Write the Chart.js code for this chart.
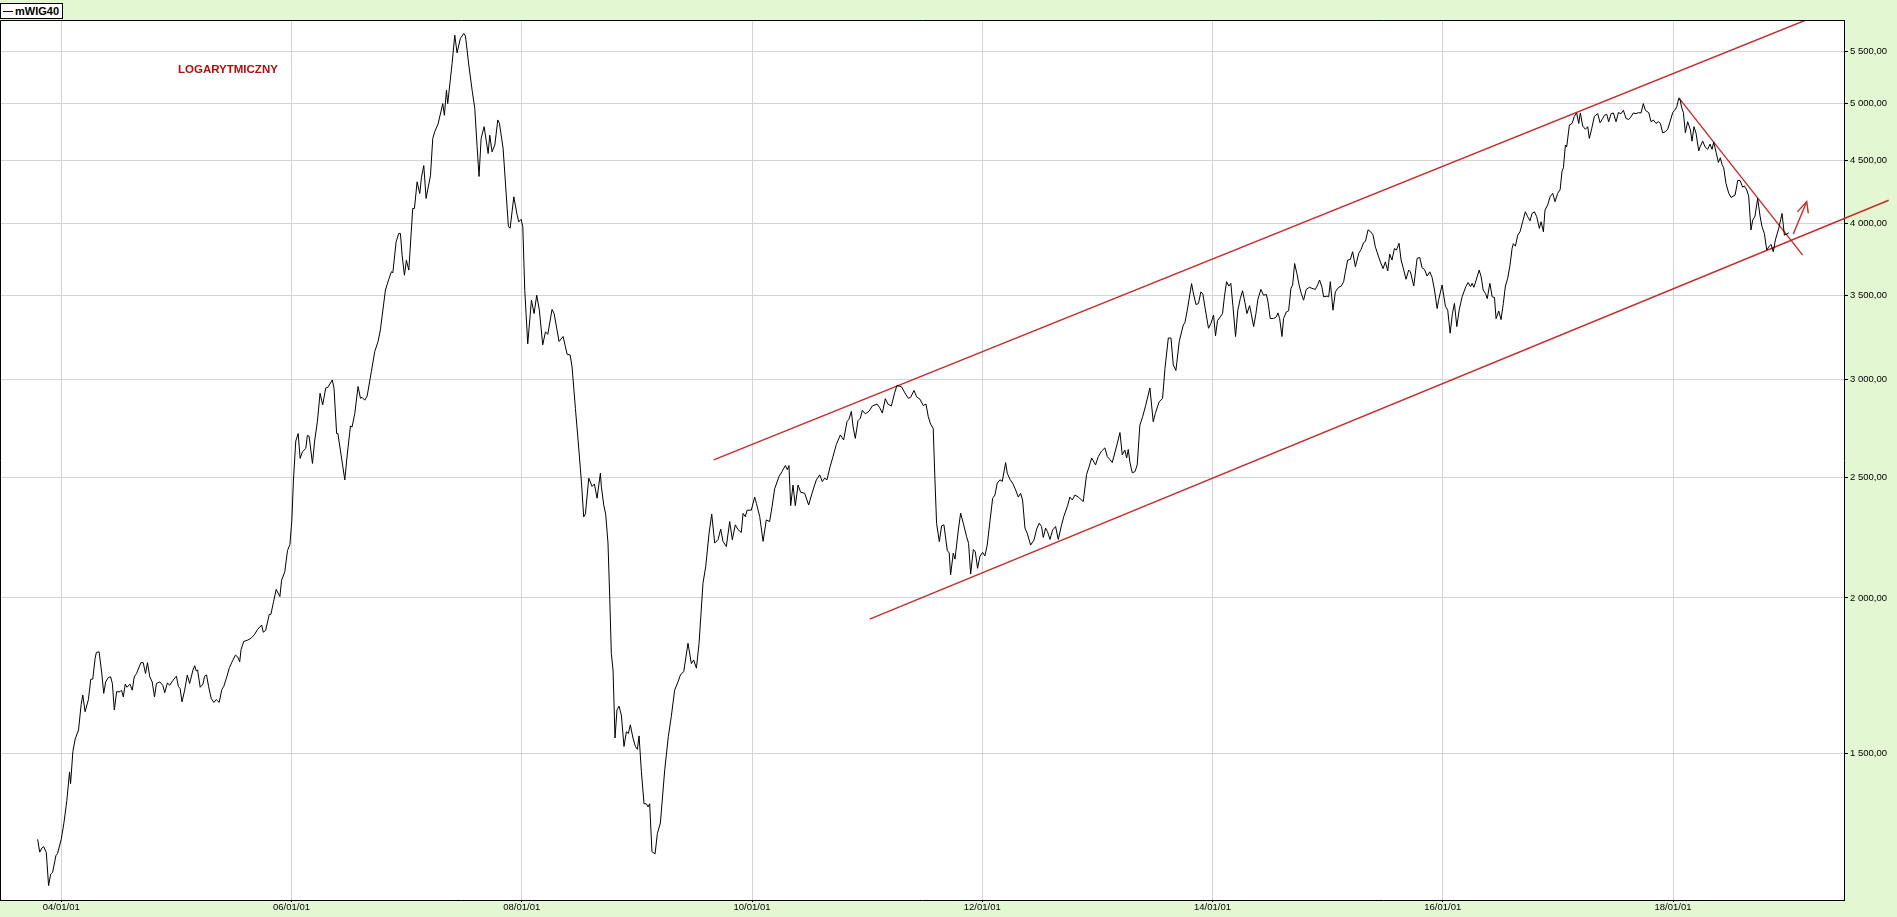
<!DOCTYPE html>
<html>
<head>
<meta charset="utf-8">
<script src="https://cdn.jsdelivr.net/npm/chart.js@4.4.1/dist/chart.umd.min.js"></script>
<style>
  html, body { margin: 0; padding: 0; background: #e3f7d3; }
  #wrap { position: relative; width: 1897px; height: 917px; overflow: hidden; }
  #c { position: absolute; left: 0; top: 0; }
  #legend { position: absolute; left: 0; top: 3px; width: 61px; height: 14px; border: 1px solid #000; background: #fff;
            font: bold 11px "Liberation Sans", Arial, sans-serif; line-height: 14px; }
  #legend .swatch { position: absolute; left: 2px; top: 7px; width: 10px; height: 1px; background: #000; }
  #legend .name { position: absolute; left: 14px; top: 0; }
  #note { position: absolute; left: 178px; top: 62px; font: bold 11.5px "Liberation Sans", Arial, sans-serif;
          color: #ad0f0f; line-height: 14px; white-space: nowrap; }
</style>
</head>
<body>
<div id="wrap">
  <canvas id="c" width="1897" height="917"></canvas>
  <div id="legend"><span class="swatch"></span><span class="name">mWIG40</span></div>
  <div id="note">LOGARYTMICZNY</div>
</div>
<script>
// ---- data: [decimal year, index value] ----
const seg2003_2006 = [[2003.795,1279],[2003.813,1249],[2003.833,1259],[2003.847,1262],[2003.870,1248],[2003.890,1174],[2003.908,1199],[2003.925,1203],[2003.954,1241],[2003.968,1246],[2004.000,1279],[2004.023,1318],[2004.049,1375],[2004.072,1449],[2004.081,1418],[2004.101,1505],[2004.121,1540],[2004.150,1566],[2004.173,1642],[2004.187,1671],[2004.207,1620],[2004.236,1657],[2004.256,1720],[2004.274,1721],[2004.294,1788],[2004.305,1808],[2004.329,1810],[2004.352,1740],[2004.369,1676],[2004.386,1712],[2004.409,1726],[2004.429,1728],[2004.444,1707],[2004.461,1625],[2004.481,1681],[2004.510,1681],[2004.524,1686],[2004.539,1665],[2004.556,1705],[2004.571,1695],[2004.597,1705],[2004.617,1686],[2004.634,1728],[2004.654,1739],[2004.692,1774],[2004.712,1774],[2004.732,1739],[2004.749,1774],[2004.769,1728],[2004.790,1712],[2004.810,1665],[2004.827,1707],[2004.856,1712],[2004.882,1701],[2004.899,1678],[2004.922,1709],[2004.942,1701],[2004.971,1717],[2005.000,1730],[2005.017,1698],[2005.032,1691],[2005.049,1650],[2005.072,1686],[2005.095,1734],[2005.115,1707],[2005.144,1750],[2005.159,1764],[2005.173,1747],[2005.184,1750],[2005.207,1695],[2005.231,1705],[2005.245,1730],[2005.262,1734],[2005.280,1697],[2005.303,1660],[2005.326,1648],[2005.346,1657],[2005.372,1648],[2005.395,1688],[2005.412,1698],[2005.438,1728],[2005.461,1758],[2005.490,1782],[2005.513,1799],[2005.533,1793],[2005.550,1777],[2005.562,1818],[2005.585,1845],[2005.620,1850],[2005.648,1856],[2005.677,1868],[2005.706,1887],[2005.741,1902],[2005.755,1877],[2005.775,1883],[2005.807,1940],[2005.821,1940],[2005.844,1986],[2005.867,2032],[2005.899,2005],[2005.914,2067],[2005.942,2100],[2005.965,2183],[2005.986,2208],[2006.003,2310],[2006.017,2488],[2006.037,2674],[2006.058,2712],[2006.075,2590],[2006.095,2622],[2006.124,2638],[2006.138,2703],[2006.153,2698],[2006.182,2566],[2006.202,2680],[2006.225,2774],[2006.248,2922],[2006.271,2860],[2006.297,2950],[2006.317,2955],[2006.354,2995],[2006.369,2950],[2006.392,2712],[2006.403,2712]];

const seg2006_2008 = [[2006.463,2489],[2006.483,2602],[2006.512,2750],[2006.526,2745],[2006.550,2815],[2006.578,2959],[2006.599,2895],[2006.613,2900],[2006.636,2885],[2006.657,2907],[2006.694,3043],[2006.723,3157],[2006.752,3216],[2006.772,3286],[2006.816,3538],[2006.845,3609],[2006.868,3660],[2006.880,3653],[2006.909,3869],[2006.932,3929],[2006.946,3929],[2006.961,3772],[2006.981,3636],[2006.998,3738],[2007.019,3671],[2007.053,4115],[2007.068,4115],[2007.091,4323],[2007.114,4230],[2007.129,4360],[2007.149,4455],[2007.169,4192],[2007.207,4373],[2007.227,4684],[2007.244,4743],[2007.273,4812],[2007.314,4997],[2007.328,4890],[2007.346,5122],[2007.357,4997],[2007.395,5383],[2007.418,5672],[2007.438,5490],[2007.467,5638],[2007.496,5690],[2007.511,5663],[2007.540,5367],[2007.569,5122],[2007.592,4952],[2007.612,4616],[2007.629,4366],[2007.647,4684],[2007.673,4788],[2007.708,4556],[2007.722,4713],[2007.742,4570],[2007.766,4628],[2007.792,4848],[2007.806,4818],[2007.838,4600],[2007.884,3979],[2007.899,3967],[2007.931,4205],[2007.959,4068],[2007.974,4014],[2007.994,4033],[2008.009,3979],[2008.026,3537],[2008.052,3202],[2008.084,3472],[2008.107,3387],[2008.130,3504],[2008.153,3408],[2008.182,3196],[2008.206,3274],[2008.226,3259],[2008.263,3413],[2008.281,3387],[2008.324,3216],[2008.359,3246],[2008.394,3141],[2008.420,3137],[2008.437,3068],[2008.466,2841],[2008.489,2680],[2008.518,2482],[2008.538,2324],[2008.553,2337],[2008.582,2497],[2008.611,2459],[2008.631,2470],[2008.654,2406],[2008.683,2520]];

const seg2008_2011 = [[2008.691,2460],[2008.712,2376],[2008.729,2336],[2008.749,2214],[2008.764,2005],[2008.778,1805],[2008.793,1750],[2008.810,1543],[2008.827,1625],[2008.845,1637],[2008.865,1610],[2008.888,1519],[2008.909,1561],[2008.926,1556],[2008.943,1581],[2008.966,1543],[2008.987,1519],[2009.004,1511],[2009.019,1549],[2009.039,1450],[2009.062,1366],[2009.082,1366],[2009.097,1358],[2009.111,1366],[2009.131,1250],[2009.158,1245],[2009.178,1293],[2009.204,1318],[2009.242,1455],[2009.273,1547],[2009.299,1606],[2009.328,1686],[2009.357,1712],[2009.378,1734],[2009.407,1745],[2009.444,1839],[2009.473,1771],[2009.493,1783],[2009.517,1756],[2009.540,1839],[2009.574,2055],[2009.598,2120],[2009.627,2255],[2009.650,2336],[2009.676,2214],[2009.705,2228],[2009.728,2272],[2009.748,2221],[2009.777,2200],[2009.806,2304],[2009.829,2228],[2009.855,2290],[2009.878,2270],[2009.907,2258],[2009.922,2339],[2009.942,2325],[2009.957,2353],[2009.994,2353],[2010.023,2411],[2010.038,2383],[2010.067,2325],[2010.096,2221],[2010.124,2311],[2010.153,2304],[2010.174,2368],[2010.197,2449],[2010.235,2505],[2010.261,2528],[2010.290,2556],[2010.307,2536],[2010.321,2556],[2010.336,2373],[2010.356,2465],[2010.376,2373],[2010.400,2465],[2010.423,2432],[2010.457,2428],[2010.492,2376],[2010.530,2443],[2010.559,2489],[2010.588,2512],[2010.611,2481],[2010.631,2497],[2010.651,2489],[2010.675,2544],[2010.704,2600],[2010.732,2657],[2010.767,2705],[2010.796,2680],[2010.825,2773],[2010.842,2785],[2010.863,2826],[2010.877,2750],[2010.897,2688],[2010.921,2778],[2010.941,2790],[2010.958,2831],[2010.984,2813],[2011.016,2826],[2011.045,2854],[2011.086,2864],[2011.109,2845],[2011.132,2817],[2011.158,2893],[2011.181,2864],[2011.210,2854],[2011.239,2925],[2011.259,2965]];

const seg2011_2013 = [[2011.299,2957],[2011.328,2924],[2011.357,2895],[2011.378,2900],[2011.407,2937],[2011.430,2903],[2011.459,2890],[2011.488,2856],[2011.511,2865],[2011.531,2798],[2011.551,2760],[2011.574,2738],[2011.589,2490],[2011.603,2297],[2011.627,2220],[2011.647,2286],[2011.667,2290],[2011.696,2184],[2011.713,2173],[2011.725,2087],[2011.748,2173],[2011.763,2149],[2011.792,2268],[2011.812,2340],[2011.835,2297],[2011.864,2240],[2011.881,2213],[2011.899,2091],[2011.922,2187],[2011.939,2180],[2011.959,2113],[2011.980,2160],[2012.003,2176],[2012.023,2162],[2012.043,2206],[2012.067,2306],[2012.090,2405],[2012.110,2420],[2012.130,2474],[2012.153,2489],[2012.174,2482],[2012.203,2570],[2012.217,2520],[2012.240,2492],[2012.263,2474],[2012.290,2443],[2012.313,2411],[2012.333,2428],[2012.350,2398],[2012.371,2276],[2012.391,2254],[2012.420,2206],[2012.449,2226],[2012.472,2272],[2012.495,2297],[2012.515,2283],[2012.530,2237],[2012.550,2276],[2012.567,2261],[2012.588,2229],[2012.611,2268],[2012.637,2283],[2012.660,2229],[2012.689,2290],[2012.709,2327],[2012.741,2372],[2012.761,2411],[2012.782,2398],[2012.805,2420],[2012.834,2411],[2012.877,2391],[2012.906,2514],[2012.926,2547],[2012.950,2592],[2012.984,2559],[2013.008,2599],[2013.036,2625],[2013.065,2641],[2013.086,2599],[2013.109,2584],[2013.129,2570],[2013.167,2650],[2013.196,2717],[2013.216,2607],[2013.239,2630],[2013.254,2592],[2013.268,2633],[2013.283,2570],[2013.303,2522],[2013.326,2527],[2013.346,2559],[2013.369,2755],[2013.393,2798],[2013.419,2856],[2013.456,2951],[2013.485,2772],[2013.503,2815],[2013.537,2877],[2013.566,2894],[2013.587,3060],[2013.616,3237],[2013.639,3237],[2013.659,3080],[2013.682,3048],[2013.711,3217],[2013.746,3316],[2013.760,3330],[2013.781,3408],[2013.818,3580],[2013.833,3519],[2013.856,3444]];

const seg2013_2016 = [[2013.878,3451],[2013.899,3526],[2013.916,3511],[2013.936,3419],[2013.965,3296],[2013.986,3326],[2014.009,3377],[2014.026,3250],[2014.043,3342],[2014.067,3366],[2014.087,3387],[2014.104,3498],[2014.122,3593],[2014.142,3564],[2014.159,3582],[2014.177,3437],[2014.200,3246],[2014.220,3408],[2014.241,3482],[2014.261,3533],[2014.281,3459],[2014.299,3387],[2014.322,3437],[2014.336,3387],[2014.357,3306],[2014.377,3387],[2014.394,3477],[2014.420,3542],[2014.443,3504],[2014.467,3509],[2014.481,3466],[2014.501,3356],[2014.530,3356],[2014.554,3366],[2014.568,3391],[2014.583,3356],[2014.603,3246],[2014.617,3356],[2014.641,3397],[2014.661,3404],[2014.681,3549],[2014.696,3571],[2014.713,3716],[2014.733,3647],[2014.754,3564],[2014.771,3515],[2014.791,3472],[2014.814,3542],[2014.841,3556],[2014.864,3549],[2014.893,3542],[2014.913,3571],[2014.930,3604],[2014.951,3556],[2014.965,3494],[2014.994,3498],[2015.009,3494],[2015.023,3593],[2015.046,3408],[2015.067,3526],[2015.096,3556],[2015.119,3564],[2015.139,3593],[2015.154,3659],[2015.174,3740],[2015.197,3744],[2015.217,3798],[2015.241,3694],[2015.270,3786],[2015.290,3814],[2015.313,3863],[2015.328,3871],[2015.351,3955],[2015.371,3943],[2015.394,3918],[2015.414,3833],[2015.438,3774],[2015.458,3727],[2015.481,3681],[2015.501,3727],[2015.522,3666],[2015.539,3781],[2015.559,3740],[2015.580,3821],[2015.597,3809],[2015.620,3858],[2015.638,3740],[2015.661,3671],[2015.681,3609],[2015.704,3671],[2015.719,3659],[2015.748,3564],[2015.777,3751],[2015.800,3758],[2015.820,3687],[2015.841,3675],[2015.864,3631],[2015.887,3659],[2015.907,3622],[2015.928,3538],[2015.951,3419],[2015.965,3477],[2015.994,3571],[2016.023,3433],[2016.043,3408],[2016.064,3266],[2016.084,3387],[2016.101,3451],[2016.122,3306],[2016.142,3408],[2016.168,3494],[2016.200,3560],[2016.220,3587],[2016.241,3560],[2016.255,3582],[2016.270,3556],[2016.290,3604],[2016.316,3671],[2016.333,3627],[2016.351,3538],[2016.371,3515],[2016.386,3482],[2016.409,3582],[2016.429,3494],[2016.449,3489]];

const seg2016_2019 = [[2016.463,3355],[2016.486,3403],[2016.506,3349],[2016.526,3452],[2016.544,3564],[2016.564,3616],[2016.584,3704],[2016.602,3821],[2016.613,3855],[2016.631,3837],[2016.651,3917],[2016.671,3941],[2016.694,4015],[2016.717,4090],[2016.738,4052],[2016.758,4022],[2016.775,4077],[2016.796,4090],[2016.816,4052],[2016.839,3966],[2016.854,4015],[2016.874,3941],[2016.888,4102],[2016.911,4141],[2016.932,4205],[2016.955,4232],[2016.975,4167],[2016.998,4232],[2017.019,4259],[2017.036,4410],[2017.048,4437],[2017.065,4628],[2017.076,4612],[2017.100,4803],[2017.123,4817],[2017.143,4881],[2017.163,4911],[2017.181,4817],[2017.195,4911],[2017.215,4794],[2017.239,4765],[2017.259,4788],[2017.273,4685],[2017.294,4773],[2017.317,4881],[2017.346,4905],[2017.366,4823],[2017.389,4861],[2017.404,4890],[2017.424,4899],[2017.441,4832],[2017.462,4905],[2017.482,4911],[2017.505,4832],[2017.525,4914],[2017.548,4905],[2017.569,4935],[2017.592,4861],[2017.615,4852],[2017.635,4876],[2017.655,4911],[2017.679,4905],[2017.699,4914],[2017.722,4911],[2017.742,4997],[2017.760,4935],[2017.789,4914],[2017.809,4832],[2017.829,4847],[2017.852,4817],[2017.873,4832],[2017.890,4817],[2017.910,4734],[2017.933,4743],[2017.954,4765],[2017.974,4832],[2017.997,4914],[2018.014,4935],[2018.032,4967],[2018.049,5043],[2018.061,5035],[2018.075,4961],[2018.090,4914],[2018.107,4734],[2018.127,4832],[2018.151,4759],[2018.165,4661],[2018.182,4788],[2018.200,4730],[2018.223,4578],[2018.235,4612],[2018.258,4661],[2018.278,4612],[2018.301,4591],[2018.321,4636],[2018.339,4591],[2018.353,4653],[2018.374,4566],[2018.394,4481],[2018.411,4520],[2018.426,4463],[2018.440,4437],[2018.460,4310],[2018.484,4232],[2018.504,4200],[2018.539,4218],[2018.562,4334],[2018.582,4334],[2018.605,4280],[2018.620,4290],[2018.640,4259],[2018.657,4210],[2018.677,3954],[2018.692,4027],[2018.712,4057],[2018.735,4192],[2018.756,4057],[2018.773,3978],[2018.793,3929],[2018.814,3810],[2018.831,3832],[2018.851,3850],[2018.871,3798],[2018.889,3882],[2018.918,3966],[2018.947,4077],[2018.967,3917],[2018.987,3924],[2019.005,3934]];

// hand-drawn analysis lines (decimal year, value)
const upperChannel = [[2009.667, 2583], [2019.155, 5834]];
const lowerChannel = [[2011.022, 1923], [2019.873, 4178]];
const downTrend    = [[2018.049, 5053], [2019.126, 3774]];
const arrowShaft   = [[2019.045, 3925], [2019.161, 4168]];
const arrowHead    = [[2019.080, 4089], [2019.161, 4168], [2019.175, 4077]];

// axes
const xTickYears  = [2004, 2006, 2008, 2010, 2012, 2014, 2016, 2018];
const xTickLabels = ['04/01/01', '06/01/01', '08/01/01', '10/01/01', '12/01/01', '14/01/01', '16/01/01', '18/01/01'];
const yTickValues = [1500, 2000, 2500, 3000, 3500, 4000, 4500, 5000, 5500];
const yTickLabels = ['1 500,00', '2 000,00', '2 500,00', '3 000,00', '3 500,00', '4 000,00', '4 500,00', '5 000,00', '5 500,00'];
const xRange = [2003.468, 2019.485];
const yRange = [1143, 5834];

// ---- chart ----
const toXY = arr => arr.map(([x, y]) => ({ x, y }));
const price = [].concat(seg2003_2006, seg2006_2008, seg2008_2011, seg2011_2013, seg2013_2016, seg2016_2019);
const RED = '#c42c2c';
const FONT = '"Liberation Sans", Arial, sans-serif';

const lineDs = (data, color, width, clip) => ({
  data: toXY(data), borderColor: color, borderWidth: width, pointRadius: 0,
  tension: 0, fill: false, clip: clip
});

const framePlugin = {
  id: 'frame',
  beforeDraw(chart) {
    const { ctx, chartArea: a } = chart;
    ctx.save();
    ctx.fillStyle = '#ffffff';
    ctx.fillRect(a.left, a.top, a.right - a.left, a.bottom - a.top);
    ctx.restore();
  },
  afterDraw(chart) {
    const { ctx, chartArea: a } = chart;
    ctx.save();
    ctx.strokeStyle = '#000';
    ctx.lineWidth = 1;
    ctx.beginPath();
    ctx.moveTo(a.left + 0.5, a.bottom);
    ctx.lineTo(a.left + 0.5, a.top + 0.5);
    ctx.lineTo(a.right, a.top + 0.5);
    ctx.stroke();
    ctx.restore();
  }
};

new Chart(document.getElementById('c'), {
  type: 'line',
  data: {
    datasets: [
      lineDs(price, '#000000', 1, undefined),
      lineDs(upperChannel, RED, 1.4, undefined),
      lineDs(lowerChannel, RED, 1.4, false),
      lineDs(downTrend, RED, 1.4, false),
      lineDs(arrowShaft, RED, 1.4, false),
      lineDs(arrowHead, RED, 1.4, false)
    ]
  },
  options: {
    responsive: false,
    animation: false,
    devicePixelRatio: 1,
    events: [],
    layout: { padding: { top: 20, left: 0, right: 0, bottom: 0 } },
    plugins: { legend: { display: false }, tooltip: { enabled: false } },
    scales: {
      x: {
        type: 'linear',
        position: 'bottom',
        min: xRange[0], max: xRange[1],
        afterBuildTicks: s => { s.ticks = xTickYears.map(v => ({ value: v })); },
        afterFit: s => { s.height = 17; },
        ticks: {
          autoSkip: false, maxRotation: 0, minRotation: 0, padding: 0,
          color: '#000', font: { family: FONT, size: 9.5 },
          callback: (v, i) => xTickLabels[i]
        },
        grid: { color: '#d4d4d4', lineWidth: 1, tickLength: 2, tickColor: '#000' },
        border: { display: true, color: '#000', width: 1 }
      },
      y: {
        type: 'logarithmic',
        position: 'right',
        min: yRange[0], max: yRange[1],
        afterBuildTicks: s => { s.ticks = yTickValues.map(v => ({ value: v })); },
        afterFit: s => { s.width = 53; },
        ticks: {
          autoSkip: false, padding: 2,
          color: '#000', font: { family: FONT, size: 9.5 },
          callback: (v, i) => yTickLabels[i]
        },
        grid: { color: '#d4d4d4', lineWidth: 1, tickLength: 4, tickColor: '#000' },
        border: { display: true, color: '#000', width: 1 }
      }
    }
  },
  plugins: [framePlugin]
});
</script>
</body>
</html>
